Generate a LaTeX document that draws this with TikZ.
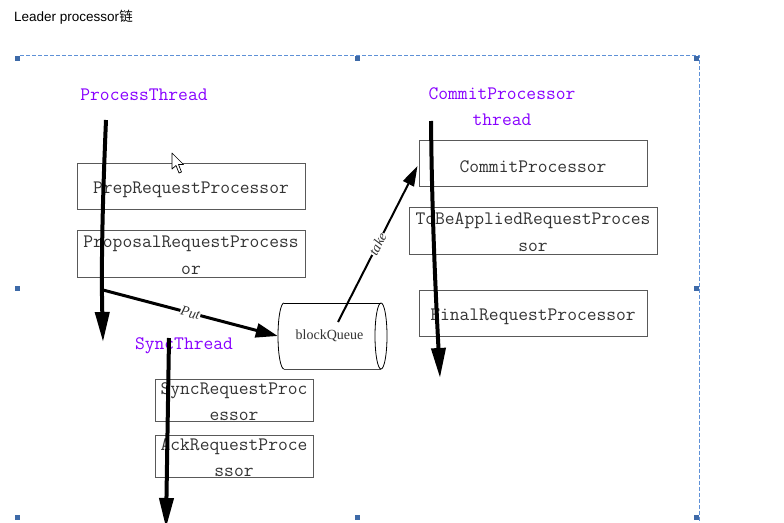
\documentclass[tikz,border=0pt]{standalone}
\usepackage{fontspec}
\setmainfont{Liberation Serif}
\newfontfamily\titlefont{Liberation Sans}
\newfontfamily\cjk{Noto Sans CJK SC}
\usetikzlibrary{arrows.meta,calc}
\definecolor{thr}{RGB}{136,0,255}
\definecolor{selline}{RGB}{95,145,215}
\definecolor{selhandle}{RGB}{62,106,168}
\newcommand\boxstrutA{\rule{0pt}{19pt}}
\newcommand\boxstrutB{\rule{0pt}{16pt}}
\newcommand\boxstrutC{\rule{0pt}{14.5pt}}
\begin{document}
\begin{tikzpicture}[x=1pt,y=-1pt,
  procbox/.style={draw=black!65, line width=1pt, text=black!80, inner sep=0pt, align=center,
    font=\ttfamily\fontsize{19}{27}\selectfont},
  smallbox/.style={procbox, font=\ttfamily\fontsize{19}{26.5}\selectfont},
  thrlabel/.style={text=thr, inner sep=0pt, align=center, font=\ttfamily\fontsize{19}{26}\selectfont},
  flow/.style={line width=4pt, -{Triangle[length=30pt,width=14pt]}},
  handoff/.style={line width=3pt, -{Triangle[length=22pt,width=14pt]}},
  takearrow/.style={line width=2pt, -{Triangle[length=20pt,width=12pt]}},
  edgelabel/.style={fill=white, inner sep=0.5pt, text=black!80, font=\itshape\fontsize{14}{14}\selectfont},
  handle/.style={fill=selhandle, draw=none, minimum size=5pt, inner sep=0pt}]
\useasboundingbox (0,0) rectangle (784,522);
\fill[white] (0,0) rectangle (784,522);

% title
\node[anchor=west, inner sep=0pt, font=\titlefont\fontsize{13.5}{14}\selectfont] (title) at (14,17) {Leader processor{\cjk 链}};

% selection frame
\draw[selline, line width=1pt, dash pattern=on 4pt off 2pt] (20,55.5) -- (699,55.5) -- (699,524);
\foreach \n/\x/\y in {h1/17.5/58.5, h2/357.5/58.5, h3/696.5/58.5, h4/17.5/288.5, h5/696.5/288.5, h6/17.5/517.5, h7/357.5/517.5, h8/696.5/517.5}
  \node[handle] (\n) at (\x,\y) {};

% boxes
\node[procbox, minimum width=228pt, minimum height=46pt] (prep) at (191,186) {\boxstrutA PrepRequestProcessor};
\node[procbox, minimum width=228pt, minimum height=47pt] (prop) at (191,253.5) {\boxstrutB ProposalRequestProcess\\or};
\node[procbox, minimum width=228pt, minimum height=46pt] (cp) at (533,163) {\boxstrutA CommitProcessor};
\node[procbox, minimum width=248pt, minimum height=47pt] (tobe) at (533,230.5) {\boxstrutB ToBeAppliedRequestProces\\sor};
\node[procbox, minimum width=228pt, minimum height=46pt] (final) at (533,313) {\boxstrutA FinalRequestProcessor};
\node[smallbox, minimum width=158pt, minimum height=41pt] (sync) at (234,400.5) {\boxstrutC SyncRequestProc\\essor};
\node[smallbox, minimum width=158pt, minimum height=41pt] (ack) at (234,456.5) {\boxstrutC AckRequestProce\\ssor};

% thread labels
\node[thrlabel] (pt) at (144,95) {ProcessThread};
\node[thrlabel] (ct) at (502,107) {CommitProcessor\\thread};
\node[thrlabel] (st) at (184,346) {SyncThread};

% block queue cylinder
\node[inner sep=0pt, minimum width=103pt, minimum height=66pt, font=\fontsize{14}{14}\selectfont, text=black!80] (q) at (329.5,336) {blockQueue};
\draw[line width=1pt] (284,303) -- (381,303);
\draw[line width=1pt, black!70] (284,369) -- (381,369);
\draw[line width=0.8pt] (381,336) ellipse[x radius=6, y radius=33];
\draw[line width=0.8pt] (284,303) arc[start angle=270, end angle=90, x radius=6, y radius=33];

% cursor
\draw[fill=white, line width=0.7pt, line join=round] (172,153) -- (172,169) -- (176,165.5) -- (179,173) -- (181.5,172) -- (178.5,164.5) -- (183.5,164.5) -- cycle;

% coordinates for connector ends
\coordinate (ps) at (106,120);
\coordinate (pe) at (103,342);
\coordinate (pb) at (103,290);
\coordinate (ss) at (169,338);
\coordinate (se) at (166,528);
\coordinate (cs) at (431,121);
\coordinate (ce) at (440,378);
\coordinate (qt) at (338,322);

% connectors
\draw[flow] (ps) .. controls (103,190) and (101,260) .. (pe);
\draw[handoff] (pb) -- node[edgelabel, sloped, pos=0.5] {Put} (q.west);
\draw[takearrow] (qt) -- node[edgelabel, sloped, pos=0.5] {take} ($(cp.west)+(-1,3)$);
\draw[flow] (cs) .. controls (432,220) and (436,300) .. (ce);
\draw[flow] (ss) -- (se);
\end{tikzpicture}
\end{document}
